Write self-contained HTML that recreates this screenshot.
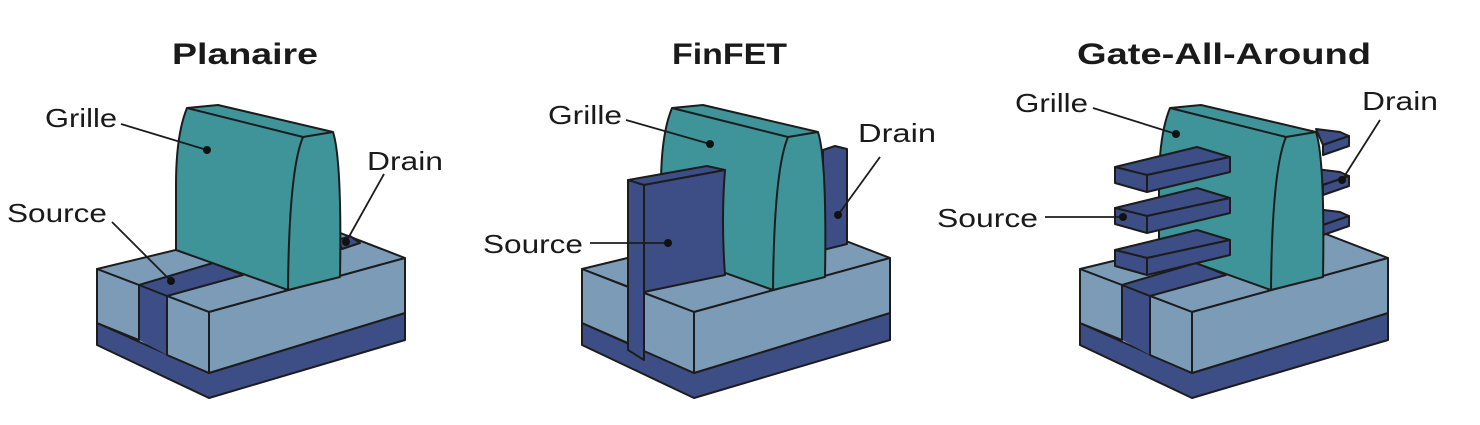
<!DOCTYPE html>
<html><head><meta charset="utf-8"><style>
html,body{margin:0;padding:0;background:#fff;}
svg{display:block;}
text{font-family:"Liberation Sans",sans-serif;fill:#1a1a1a;}
.t{font-weight:bold;font-size:30px;}
.l{font-size:26px;}
</style></head><body>
<svg width="1480" height="425" viewBox="0 0 1480 425" xmlns="http://www.w3.org/2000/svg">
<defs>
<g id="gate">
  <path d="M187,108 C180,125 176,150 176,185 L176,250 L288,290 Q289,170 303,137 Z" fill="#3e9499"/>
  <path d="M187,108 L218,105 L333,132 L303,137 Z" fill="#3e9499"/>
  <path d="M303,137 L333,132 Q342,160 340,277 L288,290 Q289,170 303,137 Z" fill="#3e9499"/>
  <path d="M187,108 C180,125 176,150 176,185 L176,250 L288,290 L340,277 Q342,160 333,132 L218,105 Z M187,108 L303,137 L333,132 M303,137 Q289,170 288,290" fill="none" stroke="#1c1c1c" stroke-width="2" stroke-linejoin="round"/>
</g>
<g id="slab">
  <polygon points="1115,167 1197,147 1230,157 1147,175" fill="#3d4e86" stroke="#1c1c1c" stroke-width="2" stroke-linejoin="round"/>
  <polygon points="1115,167 1147,175 1147,192 1115,183" fill="#3d4e86" stroke="#1c1c1c" stroke-width="2" stroke-linejoin="round"/>
  <polygon points="1147,175 1230,157 1230,172 1147,192" fill="#3d4e86" stroke="#1c1c1c" stroke-width="2" stroke-linejoin="round"/>
</g>
<g id="stub">
  <polygon points="1316,129 1340,132 1349,136 1323,145" fill="#3d4e86" stroke="#1c1c1c" stroke-width="2" stroke-linejoin="round"/>
  <polygon points="1323,145 1349,136 1349,146 1323,155" fill="#3d4e86" stroke="#1c1c1c" stroke-width="2" stroke-linejoin="round"/>
</g>
</defs>

<g stroke="#1c1c1c" stroke-width="2" stroke-linejoin="round">
  <polygon points="97,323 209,373 405,313 405,340 209,398 97,345" fill="#3d4e86"/>
  <polygon points="97,269 304,219 405,258 209,312" fill="#7c9bb7"/>
  <polygon points="139,285 167,296 167,355 139,340" fill="#3d4e86" stroke="none"/>
  <polygon points="97,269 139,285 139,340 97,323" fill="#7c9bb7"/>
  <polygon points="167,296 209,312 209,373 167,355" fill="#7c9bb7"/>
  <polygon points="209,312 405,258 405,313 209,373" fill="#7c9bb7"/>
  <polygon points="139,285 213,263 243,275 167,296" fill="#3d4e86"/>
  <polygon points="338,240 350,236 360,243 342,249" fill="#3d4e86"/>
</g>
<use href="#gate"/>

<!-- FinFET -->
<g stroke="#1c1c1c" stroke-width="2" stroke-linejoin="round" transform="translate(485,0)">
  <polygon points="97,323 209,373 405,313 405,340 209,398 97,345" fill="#3d4e86"/>
  <polygon points="97,269 304,219 405,258 209,312" fill="#7c9bb7"/>
  <polygon points="97,269 143,287 143,343 97,323" fill="#7c9bb7"/>
  <polygon points="159,293 209,312 209,373 159,351" fill="#7c9bb7"/>
  <polygon points="209,312 405,258 405,313 209,373" fill="#7c9bb7"/>
  <polygon points="338,150 350,146 362,149 362,244 338,250" fill="#3d4e86"/>
</g>
<use href="#gate" transform="translate(485,0)"/>
<g stroke="#1c1c1c" stroke-width="2" stroke-linejoin="round">
  <polygon points="628,180 644,185 644,360 628,350" fill="#3d4e86"/>
  <polygon points="628,180 707,166 725,170 644,185" fill="#3d4e86"/>
  <path d="M644,185 L725,170 Q721,220 725,275 L644,292 Z" fill="#3d4e86"/>
</g>

<!-- GAA -->
<g stroke="#1c1c1c" stroke-width="2" stroke-linejoin="round" transform="translate(983,0)">
  <polygon points="97,323 209,373 405,313 405,340 209,398 97,345" fill="#3d4e86"/>
  <polygon points="97,269 304,219 405,258 209,312" fill="#7c9bb7"/>
  <polygon points="139,285 167,296 167,355 139,340" fill="#3d4e86" stroke="none"/>
  <polygon points="97,269 139,285 139,340 97,323" fill="#7c9bb7"/>
  <polygon points="167,296 209,312 209,373 167,355" fill="#7c9bb7"/>
  <polygon points="209,312 405,258 405,313 209,373" fill="#7c9bb7"/>
  <polygon points="139,285 213,263 243,275 167,296" fill="#3d4e86"/>
</g>
<use href="#stub"/>
<use href="#stub" transform="translate(0,40)"/>
<use href="#stub" transform="translate(0,80)"/>
<use href="#gate" transform="translate(983,0)"/>
<use href="#slab"/>
<use href="#slab" transform="translate(0,41)"/>
<use href="#slab" transform="translate(0,83)"/>

<g stroke="#1c1c1c" stroke-width="1.8" fill="none">
  <line x1="121" y1="124" x2="207" y2="150"/>
  <line x1="112" y1="222" x2="171" y2="281"/>
  <line x1="384" y1="174" x2="346" y2="242"/>
  <line x1="626" y1="120" x2="710" y2="144"/>
  <line x1="590" y1="243" x2="668" y2="243"/>
  <line x1="880" y1="157" x2="838" y2="215"/>
  <line x1="1093" y1="108" x2="1176" y2="134"/>
  <line x1="1045" y1="217" x2="1123" y2="217"/>
  <line x1="1380" y1="120" x2="1342" y2="180"/>
</g>
<g fill="#111">
  <circle cx="207" cy="150" r="4"/><circle cx="171" cy="281" r="4"/><circle cx="346" cy="242" r="4"/>
  <circle cx="710" cy="144" r="4"/><circle cx="668" cy="243" r="4"/><circle cx="838" cy="215" r="4"/>
  <circle cx="1176" cy="134" r="4"/><circle cx="1123" cy="217" r="4"/><circle cx="1342" cy="180" r="4"/>
</g>

<text class="t" x="172" y="64" textLength="146" lengthAdjust="spacingAndGlyphs">Planaire</text>
<text class="t" x="672" y="64" textLength="115" lengthAdjust="spacingAndGlyphs">FinFET</text>
<text class="t" x="1077" y="64" textLength="294" lengthAdjust="spacingAndGlyphs">Gate-All-Around</text>

<text class="l" x="45" y="127" textLength="72" lengthAdjust="spacingAndGlyphs">Grille</text>
<text class="l" x="7" y="222" textLength="100" lengthAdjust="spacingAndGlyphs">Source</text>
<text class="l" x="367" y="170" textLength="76" lengthAdjust="spacingAndGlyphs">Drain</text>

<text class="l" x="548" y="124" textLength="74" lengthAdjust="spacingAndGlyphs">Grille</text>
<text class="l" x="483" y="253" textLength="100" lengthAdjust="spacingAndGlyphs">Source</text>
<text class="l" x="858" y="142" textLength="78" lengthAdjust="spacingAndGlyphs">Drain</text>

<text class="l" x="1015" y="112" textLength="73" lengthAdjust="spacingAndGlyphs">Grille</text>
<text class="l" x="937" y="227" textLength="101" lengthAdjust="spacingAndGlyphs">Source</text>
<text class="l" x="1362" y="110" textLength="76" lengthAdjust="spacingAndGlyphs">Drain</text>
</svg>
</body></html>
